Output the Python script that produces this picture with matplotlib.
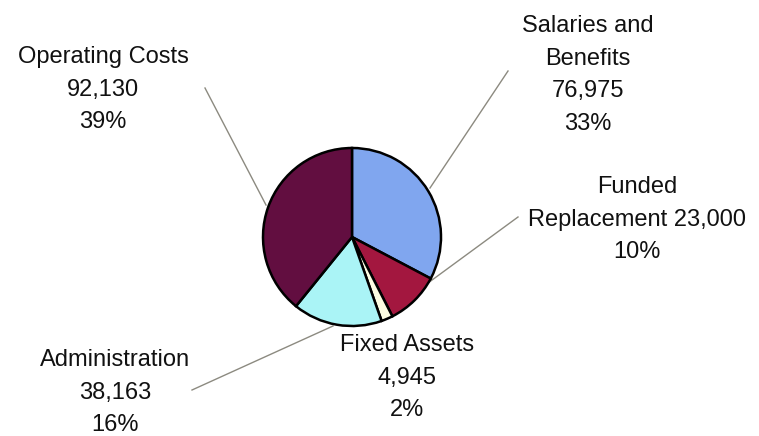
#!/usr/bin/env python3
"""Budget breakdown pie chart with leader-line labels."""
import matplotlib as mpl
import matplotlib.pyplot as plt

mpl.rcParams.update({
    "font.family": ["Liberation Sans", "DejaVu Sans"],
    "font.size": 17.0,
})

# Budget categories, clockwise from 12 o'clock
categories = ["Salaries and\nBenefits", "Funded\nReplacement", "Fixed Assets",
              "Administration", "Operating Costs"]
amounts = [76975, 23000, 4945, 38163, 92130]
percents = [33, 10, 2, 16, 39]
colors = ["#80a6ef", "#a3173f", "#fdfde2", "#aaf4f6", "#620e40"]

W, H = 759, 436
fig = plt.figure(figsize=(W / 100, H / 100), dpi=100)
ax = fig.add_axes([0, 0, 1, 1])

cx, cy, r = 352, H - 237, 89
ax.pie(amounts, colors=colors, startangle=90, counterclock=False,
       center=(cx, cy), radius=r, frame=True,
       wedgeprops=dict(edgecolor="black", linewidth=1.8))
ax.set_xlim(0, W)
ax.set_ylim(0, H)
ax.set_aspect("equal")
ax.axis("off")

# label text (centre x, first-line middle y) and leader line (outer end, pie end) in px
layout = {
    "Salaries and\nBenefits": dict(text=(588, 24), line=((508, 71), (430, 188))),
    "Funded\nReplacement": dict(text=(637, 185), line=((518, 217), (428, 283))),
    "Fixed Assets": dict(text=(407, 343), line=None),
    "Administration": dict(text=(115, 358), line=((192, 390), (333, 326))),
    "Operating Costs": dict(text=(103, 55), line=((205, 88), (266, 205))),
}

for name, amt, pct in zip(categories, amounts, percents):
    if name == "Funded\nReplacement":
        label = f"Funded\nReplacement {amt:,}\n{pct}%"
    else:
        label = f"{name}\n{amt:,}\n{pct}%"
    tx, ty = layout[name]["text"]
    ax.text(tx, H - ty + 9, label, ha="center", va="top", ma="center",
            linespacing=1.62, color="#111111")
    if layout[name]["line"]:
        (x0, y0), (x1, y1) = layout[name]["line"]
        ax.plot([x0, x1], [H - y0, H - y1], color="#8c8a80", lw=1.0,
                zorder=0.5)

fig.savefig("out.png", dpi=100)
